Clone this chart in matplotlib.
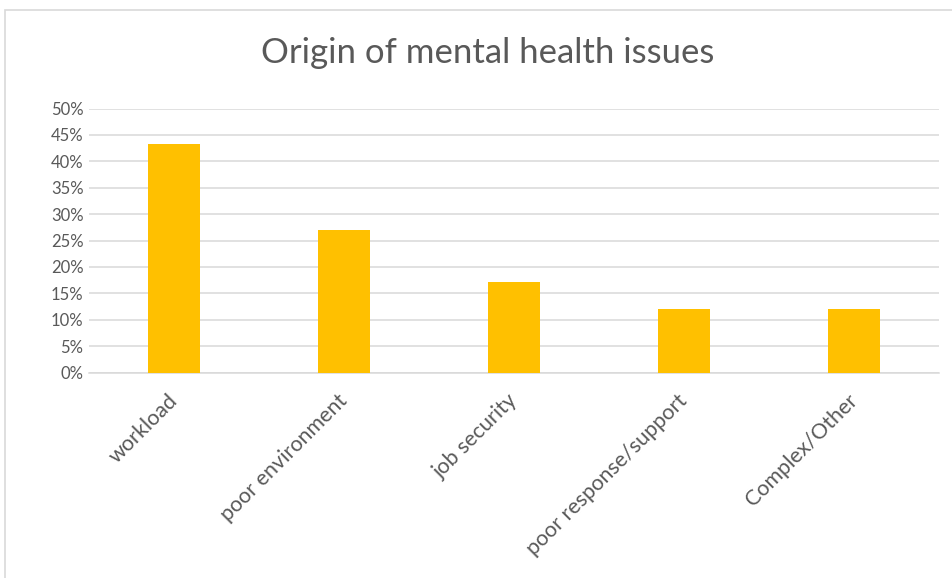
import numpy as np
import matplotlib.pyplot as plt
import matplotlib.transforms as mtransforms
from matplotlib.patches import Rectangle

categories = ["workload", "poor environment", "job security", "poor response/support", "Complex/Other"]
values = [43.3, 26.9, 17.1, 12.1, 12.1]
yticks = [0, 5, 10, 15, 20, 25, 30, 35, 40, 45, 50]

plt.rcParams['font.family'] = ['Lato', 'DejaVu Sans']

fig = plt.figure(figsize=(9.53, 5.78), dpi=100)
# chart frame like excel
fig.patches.append(Rectangle((5/953, -0.01), 1.0, 1 - 10/578 + 0.01, transform=fig.transFigure,
                             fill=False, edgecolor="#d9d9d9", linewidth=1.2))

ax = fig.add_axes([89/953, 1 - 372.5/578, 850/953, (372.5 - 108.5)/578])
x = np.arange(len(categories))
ax.bar(x, values, width=0.306, color="#FFC000", zorder=3)

ax.set_xlim(-0.5, len(categories) - 0.5)
ax.set_ylim(0, 50)
ax.set_yticks(yticks)
ax.set_yticklabels([f"{t}%" for t in yticks], fontsize=12, color="#595959")
ax.yaxis.grid(True, color="#d9d9d9", linewidth=1.1, zorder=0)
ax.tick_params(axis="y", length=0, pad=4)
ax.tick_params(axis="x", length=0, pad=13)

ax.set_xticks(x)
ax.set_xticklabels(categories, rotation=45, ha="right", rotation_mode="anchor",
                   fontsize=15.5, color="#595959")
shift = mtransforms.ScaledTranslation(-7/100, 0, fig.dpi_scale_trans)
for lbl in ax.get_xticklabels():
    lbl.set_transform(lbl.get_transform() + shift)

for s in ["top", "right", "left"]:
    ax.spines[s].set_visible(False)
ax.spines["bottom"].set_color("#d9d9d9")
ax.spines["bottom"].set_linewidth(1.1)

fig.text(488/953, 1 - 53/578, "Origin of mental health issues", ha="center", va="center",
         fontsize=25, color="#595959")

fig.savefig("out.png", dpi=100)
